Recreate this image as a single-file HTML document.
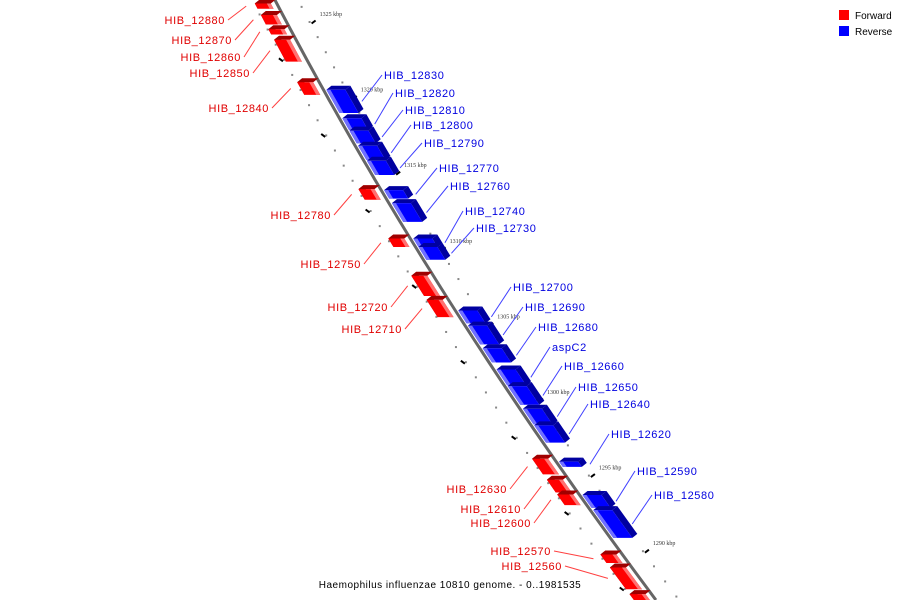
<!DOCTYPE html>
<html><head><meta charset="utf-8"><style>
html,body{margin:0;background:#fff;overflow:hidden;width:900px;height:600px;}
svg{display:block;font-family:"Liberation Sans","DejaVu Sans",sans-serif;}
</style></head><body>
<svg id="map" width="900" height="600" viewBox="0 0 900 600">
<rect x="0" y="0" width="900" height="600" fill="#fff"/>
<g id="ticks"></g>
<g id="backbone"></g>
<g id="genes"></g>
<g id="labels"></g>
<g>
<rect x="839" y="10" width="10" height="10" fill="#ff0000"/>
<text x="855" y="19" font-size="10" fill="#000">Forward</text>
<rect x="839" y="26" width="10" height="10" fill="#0000ff"/>
<text x="855" y="35" font-size="10" fill="#000">Reverse</text>
</g>
<text x="450" y="588" font-size="10" text-anchor="middle" letter-spacing="0.5" fill="#000">Haemophilus influenzae 10810 genome. - 0..1981535</text>
</svg>
<script>
const fwdNames=["HIB_12880","HIB_12870","HIB_12860","HIB_12850","HIB_12840","HIB_12780","HIB_12750","HIB_12720","HIB_12710","HIB_12630","HIB_12610","HIB_12600","HIB_12570","HIB_12560",""];
const fwdStart=[1326.3,1325.6,1324.6,1324.0,1321.2,1314.1,1310.8,1308.4,1306.8,1296.3,1294.9,1293.9,1289.9,1289.1,1287.3];
const fwdEnd=[1325.8,1324.7,1324.1,1322.2,1320.0,1313.1,1310.0,1306.7,1305.3,1294.9,1293.7,1292.9,1289.1,1287.3,1286.4];
const fwdLabelX=[225,232,241,250,269,331,361,388,402,507,521,531,551,562,0];
const fwdLabelY=[24,44,61,77,112,219,268,311,333,493,513,527,555,570,0];
const revNames=["HIB_12830","HIB_12820","HIB_12810","HIB_12800","HIB_12790","HIB_12770","HIB_12760","HIB_12740","HIB_12730","HIB_12700","HIB_12690","HIB_12680","aspC2","HIB_12660","HIB_12650","HIB_12640","HIB_12620","HIB_12590","HIB_12580"];
const revStart=[1320.7,1318.8,1318.0,1317.0,1316.0,1314.0,1313.2,1310.8,1310.3,1306.1,1305.1,1303.6,1302.2,1301.1,1299.6,1298.5,1296.0,1293.9,1292.9];
const revEnd=[1318.8,1317.7,1316.8,1315.7,1314.7,1313.2,1311.6,1310.0,1309.1,1304.9,1303.5,1302.3,1300.8,1299.5,1298.2,1297.0,1295.5,1292.7,1290.7];
const revLabelX=[384,395,405,413,424,439,450,465,476,513,525,538,552,564,578,590,611,637,654];
const revLabelY=[79,97,114,129,147,172,190,215,232,291,311,331,351,370,391,408,438,475,499];
const majorTicks=[1325,1320,1315,1310,1305,1300,1295,1290];
const tickLabels=["1325 kbp","1320 kbp","1315 kbp","1310 kbp","1305 kbp","1300 kbp","1295 kbp","1290 kbp"];

const NS="http://www.w3.org/2000/svg";
function yOf(k){return 22+(1325-k)*15.12;}
function xOf(y){return 275+0.5227*y+0.000187*y*y;}
function pt(k,off){const y=yOf(k);return [xOf(y)+off,y];}
function mk(tag,attrs,parent){const e=document.createElementNS(NS,tag);for(const a in attrs)e.setAttribute(a,attrs[a]);parent.appendChild(e);return e;}
const gT=document.getElementById('ticks'),gB=document.getElementById('backbone'),gG=document.getElementById('genes'),gL=document.getElementById('labels');

let pts=[];for(let y=0;y<=600;y+=10){pts.push(xOf(y).toFixed(1)+","+y);}
const bb=mk('polyline',{points:pts.join(' '),fill:'none',stroke:'#666',"stroke-width":3},gB);



for(let k=1327;k>=1284;k-=1){
  for(const off of [23,-23]){
    const p=pt(k+(off<0?0.5:0),off);
    if(p[1]<0||p[1]>600)continue;
    const d=mk('rect',{x:p[0]-1,y:p[1]-1,width:2,height:2,fill:'#888'},gT);
    
    
  }
}
for(let k=1327.5;k>=1285;k-=5){
  const p=pt(k,-26);
  if(p[1]<0||p[1]>600)continue;
  const t=mk('line',{x1:p[0]-2,y1:p[1]-1.5,x2:p[0]+2,y2:p[1]+1.5,stroke:'#000',"stroke-width":2},gT);
  
  
}
majorTicks.forEach((k,i)=>{
  const p=pt(k,27);
  const t=mk('line',{x1:p[0]-2,y1:p[1]+1.5,x2:p[0]+2,y2:p[1]-1.5,stroke:'#000',"stroke-width":2},gT);
  
  
  const tx=mk('text',{x:p[0]+6,y:p[1]-6,"font-size":6,fill:'#333',"font-family":'"Liberation Serif",serif'},gT);
  tx.textContent=tickLabels[i];
  
  
});

function gene(s,e,side,main,dark,light,name){
  const g=mk('g',{},gG);
  
  
  const len=s-e, pad=Math.min(0.18,len*0.15);
  s-=pad; e+=pad;
  const i0=side>0?3:-6, o0=side>0?22:-22;
  const a=pt(s,i0),b=pt(s,o0),c=pt(e,o0),d=pt(e,i0);
  const P=q=>q.map(v=>v[0].toFixed(1)+","+v[1].toFixed(1)).join(' ');
  const dx=5,dy=-4;
  mk('polygon',{points:P([a,b,[b[0]+dx,b[1]+dy],[a[0]+dx,a[1]+dy]]),fill:dark},g);
  mk('polygon',{points:P([b,c,[c[0]+dx,c[1]+dy],[b[0]+dx,b[1]+dy]]),fill:dark},g);
  mk('polygon',{points:P([a,b,c,d]),fill:main},g);
  const m1=pt(s,side>0?7:-10),m2=pt(e,side>0?7:-10);
  mk('polygon',{points:P([a,m1,m2,d]),fill:light},g);
}
fwdStart.forEach((s,i)=>gene(s,fwdEnd[i],-1,'#ff0000','#a00000','#ff7070',fwdNames[i]));
revStart.forEach((s,i)=>gene(s,revEnd[i],1,'#0000ff','#0000a0','#7070ff',revNames[i]));

function label(name,lx,ly,anchor,col,lineCol,k,off){
  if(!name)return;
  const t=mk('text',{x:lx,y:ly,"font-size":11,fill:col,"text-anchor":anchor,"letter-spacing":"0.6"},gL);
  t.textContent=name;
  
  
  const p=pt(k,off);
  const sx=anchor==='end'?lx+3:lx-2;
  const l=mk('line',{x1:sx,y1:ly-4,x2:p[0],y2:p[1],stroke:lineCol,"stroke-width":1},gL);
  
  
}
fwdNames.forEach((n,i)=>label(n,fwdLabelX[i],fwdLabelY[i],'end','#e00000','#ff4040',(fwdStart[i]+fwdEnd[i])/2,-32));
revNames.forEach((n,i)=>label(n,revLabelX[i],revLabelY[i],'start','#0000e0','#4040ff',(revStart[i]+revEnd[i])/2,32));
</script>
</body></html>
